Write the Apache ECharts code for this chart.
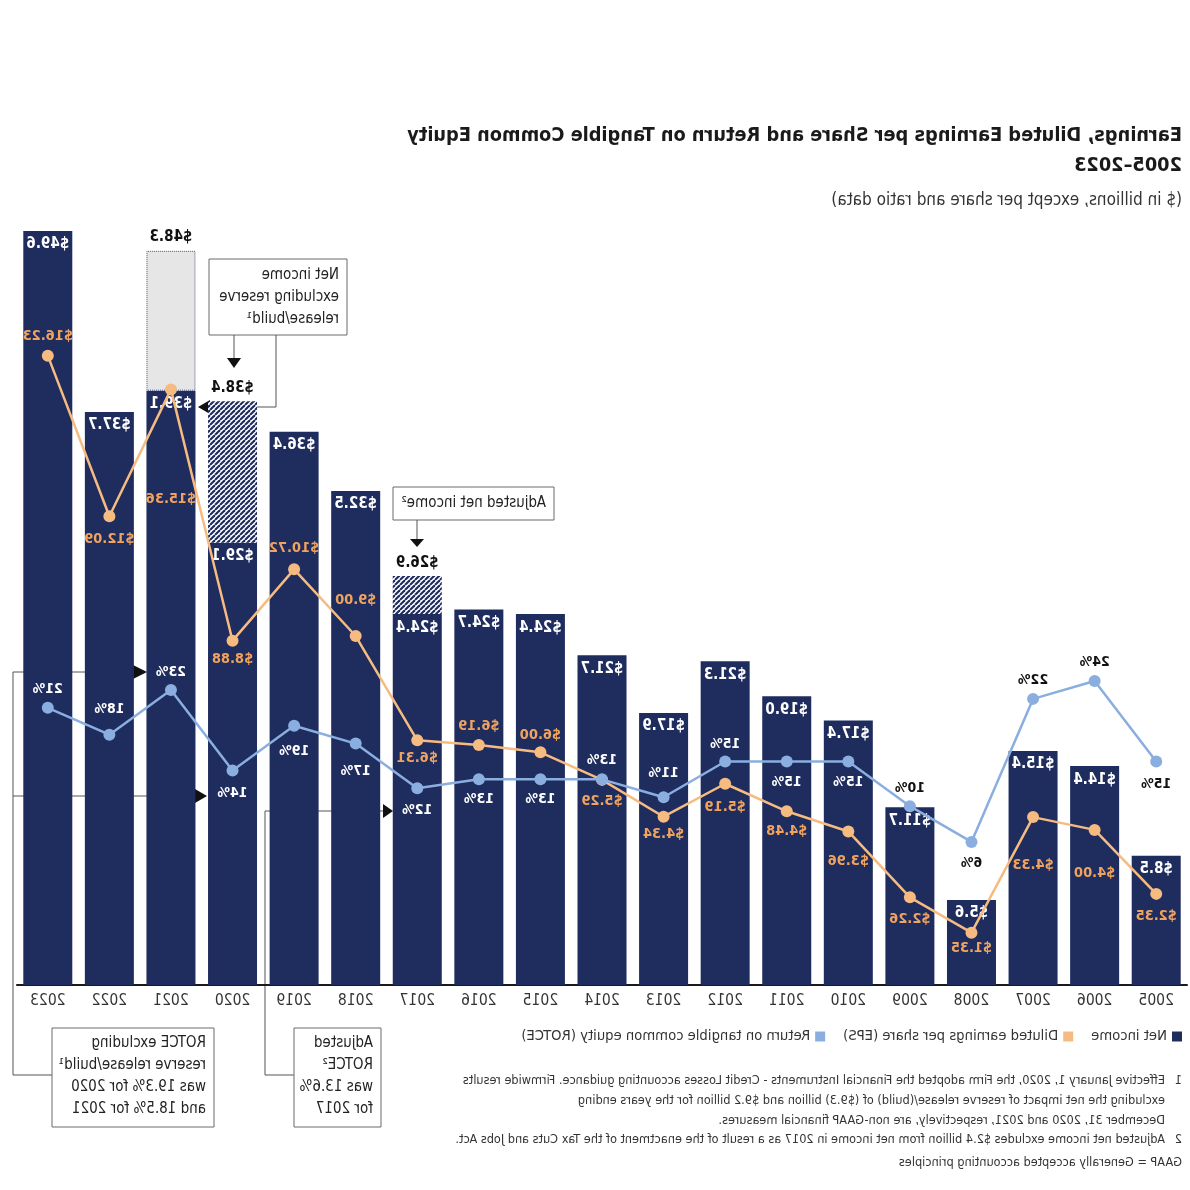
<!DOCTYPE html>
<html>
<head>
<meta charset="utf-8">
<script src="https://cdn.jsdelivr.net/npm/echarts@6/dist/echarts.min.js"></script>
<style>
html,body{margin:0;padding:0;background:#fff;}
#chart{width:1190px;height:1190px;transform:scaleX(-1);}
</style>
</head>
<body>
<div id="chart"></div>
<script>
// ---------- data ----------
const years = ['2005','2006','2007','2008','2009','2010','2011','2012','2013','2014','2015','2016','2017','2018','2019','2020','2021','2022','2023'];
// reported net income ($B)
const netIncome = [8.5,14.4,15.4,5.6,11.7,17.4,19.0,21.3,17.9,21.7,24.4,24.7,24.4,32.5,36.4,29.1,48.3,37.7,49.6];
// adjusted net income / net income excluding reserve release/build ($B)
const netIncomeAdjusted = [null,null,null,null,null,null,null,null,null,null,null,null,26.9,null,null,38.4,39.1,null,null];
// diluted EPS ($)
const eps = [2.35,4.00,4.33,1.35,2.26,3.96,4.48,5.19,4.34,5.29,6.00,6.19,6.31,9.00,10.72,8.88,15.36,12.09,16.23];
// ROTCE (%)
const rotce = [15,24,22,6,10,15,15,15,11,13,13,13,12,17,19,14,23,18,21];
const seriesNames = ['Net income','Diluted earnings per share (EPS)','Return on tangible common equity (ROTCE)'];

// ---------- layout / style config ----------
const FONT = "'Liberation Sans Narrow','DejaVu Sans Condensed','Open Sans',sans-serif";
const NAVY = '#1f2c5e';
const ORANGE_LINE = '#f6bb80';
const ORANGE_TEXT = '#efa35f';
const BLUE = '#8aaedf';
// vertical label offsets (px) relative to point centre
const epsLabelDy = [22,43,48,16,22,30,20,23,18,21,-17,-19,18,-36,-21,19,110,23,-19];
const rotceLabelDy = [23,-19,-19,21,-18,21,21,-17,-24,-19,20,20,22,28,26,23,-18,-25,-18];
const rotceLabelDark = [true,true,true,true,true,false,false,false,false,false,false,false,false,false,false,false,false,false,false];

// hatch pattern
function hatch(){
  const c = document.createElement('canvas');
  const s = 5;
  c.width = s; c.height = s;
  const g = c.getContext('2d');
  g.fillStyle = '#ffffff'; g.fillRect(0,0,s,s);
  g.strokeStyle = NAVY; g.lineWidth = 2.1;
  for (const k of [-s,0,s]){ g.beginPath(); g.moveTo(k,0); g.lineTo(k+s,s); g.stroke(); }
  return c;
}
const hatchImg = hatch();

// build bar data
const baseData = netIncome.map((v,i)=>{
  const a = netIncomeAdjusted[i];
  return a==null ? v : Math.min(v,a);
});
const extData = netIncome.map((v,i)=>{
  const a = netIncomeAdjusted[i];
  if (a==null) return {value: 0, itemStyle:{opacity:0}, label:{show:false}};
  const total = Math.max(v,a);
  const diff = +(Math.abs(a-v)).toFixed(2);
  const hatched = a > v;
  return {
    value: diff,
    itemStyle: hatched ? {color:{image:hatchImg, repeat:'repeat'}} :
      {color:'#e6e6e6', borderColor:'#4a5680', borderWidth:1, borderType:'dotted'},
    label:{show:true, formatter:'$'+total.toFixed(1)}
  };
});

const epsData = eps.map((v,i)=>({value:v, label:{offset:[0,epsLabelDy[i]]}}));
const rotceData = rotce.map((v,i)=>({value:v, label:{offset:[0,rotceLabelDy[i]], color: rotceLabelDark[i] ? '#111' : '#fff'}}));

// ---------- graphics (annotations, footnotes) ----------
const LINE = '#555';
const FN = {font:'12.6px '+FONT, fill:'#333'};
function txt(x,y,t,opt){
  return {type:'text', x:x, y:y, silent:true, style:Object.assign({text:t, font:'15px '+FONT, fill:'#222', textVerticalAlign:'middle', textAlign:'left'}, opt||{})};
}
function box(x,y,w,h){ return {type:'rect', shape:{x:x,y:y,width:w,height:h}, style:{fill:'#fff', stroke:'#6b6b6b', lineWidth:1}}; }
function pl(pts){ return {type:'polyline', shape:{points:pts}, style:{stroke:LINE, lineWidth:1, fill:null}}; }
function tri(pts){ return {type:'polygon', shape:{points:pts}, style:{fill:'#111'}}; }

const graphics = [
  // net income excluding reserve release/build
  box(843,259,138,76),
  txt(851,275,'Net income'), txt(851,297,'excluding reserve'), txt(851,319,'release/build¹'),
  pl([[956,335],[956,358]]), tri([[949,358],[963,358],[956,368]]),
  pl([[914,335],[914,407],[980,407]]), tri([[980,400],[980,414],[992,407]]),
  // adjusted net income
  box(636,487,161,33),
  txt(644,503,'Adjusted net income²'),
  pl([[773,520],[773,539]]), tri([[766,539],[780,539],[773,547]]),
  // ROTCE excluding
  pl([[1138,1075],[1177,1075],[1177,672],[1057,672]]), tri([[1057,665],[1057,679],[1043,672]]),
  pl([[1177,796],[995,796]]), tri([[995,789],[995,803],[983,796]]),
  box(976,1028,162,99),
  txt(984,1043,'ROTCE excluding'), txt(984,1065,'reserve release/build¹'), txt(984,1087,'was 19.3% for 2020'), txt(984,1109,'and 18.5% for 2021'),
  // adjusted ROTCE
  pl([[896,1075],[925,1075],[925,811],[807,811]]), tri([[807,804],[807,818],[797,811]]),
  box(809,1028,87,99),
  txt(817,1043,'Adjusted'), txt(817,1065,'ROTCE²'), txt(817,1087,'was 13.6%'), txt(817,1109,'for 2017'),
  // footnotes
  txt(8,1081,'1',FN),
  txt(25,1081,'Effective January 1, 2020, the Firm adopted the Financial Instruments - Credit Losses accounting guidance. Firmwide results',FN),
  txt(25,1101,'excluding the net impact of reserve release/(build) of ($9.3) billion and $9.2 billion for the years ending',FN),
  txt(25,1121,'December 31, 2020 and 2021, respectively, are non-GAAP financial measures.',FN),
  txt(8,1140,'2',FN),
  txt(25,1140,'Adjusted net income excludes $2.4 billion from net income in 2017 as a result of the enactment of the Tax Cuts and Jobs Act.',FN),
  txt(8,1163,'GAAP = Generally accepted accounting principles',FN)
];

// ---------- chart ----------
const chart = echarts.init(document.getElementById('chart'), null, {renderer:'canvas'});
chart.setOption({
  animation:false,
  backgroundColor:'#fff',
  textStyle:{fontFamily:FONT},
  title:[
    {text:'Earnings, Diluted Earnings per Share and Return on Tangible Common Equity\n2005–2023', left:8, top:121, padding:0,
     textStyle:{fontFamily:FONT, fontSize:19.8, fontWeight:'bold', lineHeight:30, color:'#1a1a1a'}},
    {text:'($ in billions, except per share and ratio data)', left:8, top:192, padding:0,
     textStyle:{fontFamily:FONT, fontSize:17, fontWeight:'normal', lineHeight:18, color:'#333'}}
  ],
  legend:{
    left:8, top:1029, padding:0, itemWidth:10, itemHeight:10, itemGap:18,
    textStyle:{fontFamily:FONT, fontSize:14.7, color:'#333'},
    data:[{name:seriesNames[0], icon:'rect'},{name:seriesNames[1], icon:'rect'},{name:seriesNames[2], icon:'rect'}]
  },
  grid:{left:3, right:17, top:225, bottom:205},
  xAxis:{
    type:'category', data:years,
    axisTick:{show:false},
    axisLine:{lineStyle:{color:'#1a1a1a', width:2}},
    axisLabel:{margin:8, fontSize:15.5, color:'#333', fontFamily:FONT}
  },
  yAxis:[
    {type:'value', min:0, max:50, show:false},
    {type:'value', min:0, max:19.6, show:false},
    {type:'value', min:-10, max:75, show:false}
  ],
  series:[
    {name:seriesNames[0], type:'bar', stack:'ni', yAxisIndex:0, barWidth:49, data:baseData,
     itemStyle:{color:NAVY},
     label:{show:true, position:'insideTop', distance:6, color:'#fff', fontWeight:'bold', fontSize:15, fontFamily:FONT,
            formatter:p=>'$'+Number(p.value).toFixed(1)}},
    {name:'ext', type:'bar', stack:'ni', yAxisIndex:0, barWidth:49, data:extData,
     label:{position:'top', distance:6, color:'#111', fontWeight:'bold', fontSize:15, fontFamily:FONT}},
    {name:seriesNames[1], type:'line', yAxisIndex:1, data:epsData, z:4,
     symbol:'circle', symbolSize:12, color:ORANGE_LINE,
     lineStyle:{color:ORANGE_LINE, width:2.5}, itemStyle:{color:ORANGE_LINE},
     label:{show:true, position:'inside', color:ORANGE_TEXT, fontWeight:'bold', fontSize:14.5, fontFamily:FONT,
            formatter:p=>'$'+Number(p.value).toFixed(2)}},
    {name:seriesNames[2], type:'line', yAxisIndex:2, data:rotceData, z:5,
     symbol:'circle', symbolSize:12, color:BLUE,
     lineStyle:{color:BLUE, width:2.5}, itemStyle:{color:BLUE},
     label:{show:true, position:'inside', fontWeight:'bold', fontSize:14, fontFamily:FONT,
            formatter:p=>p.value+'%'}}
  ],
  graphic:graphics
});
</script>
</body>
</html>
